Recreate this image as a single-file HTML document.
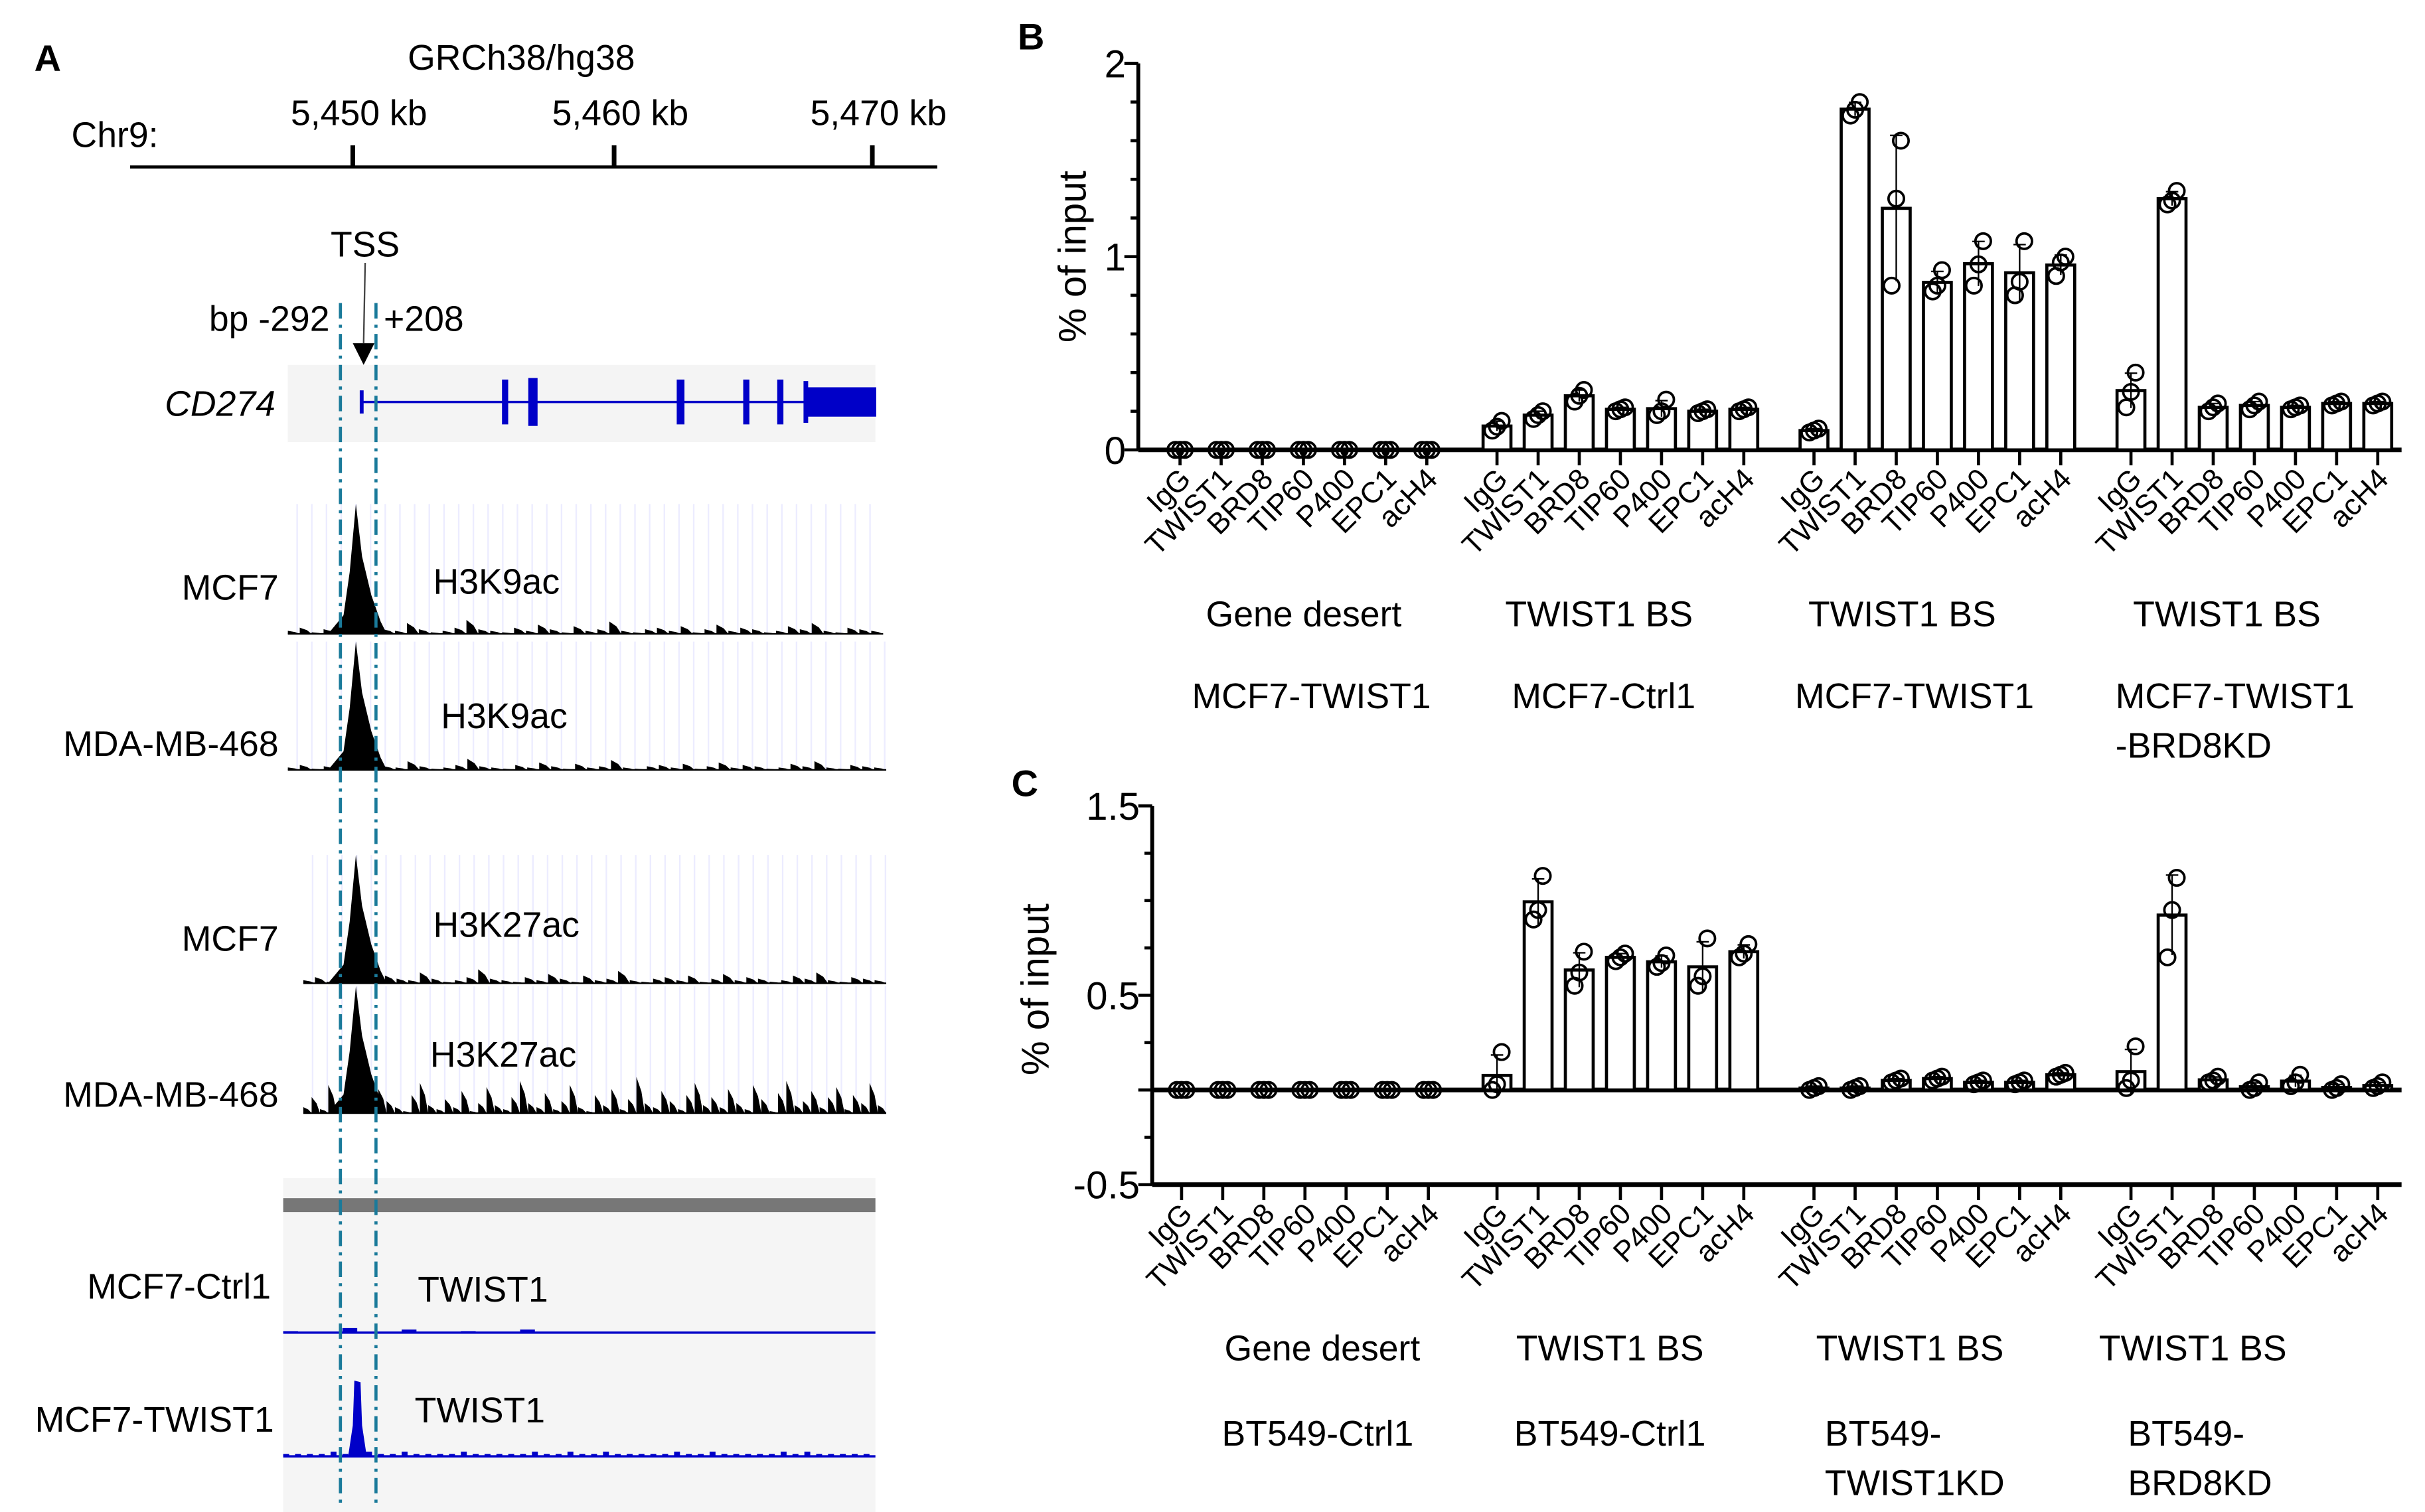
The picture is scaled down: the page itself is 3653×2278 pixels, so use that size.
<!DOCTYPE html>
<html><head><meta charset="utf-8"><style>
html,body{margin:0;padding:0;background:#fff}
svg{display:block;font-family:"Liberation Sans",Arial,sans-serif}
</style></head><body>
<svg id="fig" width="3653" height="2278" viewBox="0 0 1568 978" xmlns="http://www.w3.org/2000/svg">
<g id="panelA">
<text x="22" y="46" font-size="24" font-weight="bold">A</text>
<text x="337" y="45" font-size="23" text-anchor="middle">GRCh38/hg38</text>
<text x="46" y="95" font-size="23">Chr9:</text>
<line x1="84" y1="108" x2="606" y2="108" stroke="#000" stroke-width="2"/>
<g stroke="#000" stroke-width="3">
<line x1="228" y1="94" x2="228" y2="108"/><line x1="397" y1="94" x2="397" y2="108"/><line x1="564" y1="94" x2="564" y2="108"/></g>
<g font-size="23" text-anchor="middle">
<text x="232" y="81">5,450 kb</text><text x="401" y="81">5,460 kb</text><text x="568" y="81">5,470 kb</text></g>
<text x="236" y="166" font-size="23" text-anchor="middle">TSS</text>
<line x1="236" y1="170" x2="235" y2="222" stroke="#444" stroke-width="1"/>
<polygon points="228,222 242,222 235,236" fill="#000"/>
<text x="213" y="214" font-size="23" text-anchor="end">bp -292</text>
<text x="248" y="214" font-size="23">+208</text>
<rect x="186" y="236" width="380" height="50" fill="#f4f4f4"/>
<text x="178" y="269" font-size="23" font-style="italic" text-anchor="end">CD274</text>
<g fill="#0000c8" stroke="#0000c8">
<line x1="233" y1="260" x2="522" y2="260" stroke-width="1.5"/>
<rect x="233" y="253" width="1.5" height="14"/>
<rect x="325" y="246" width="3" height="28"/><rect x="342" y="245" width="5" height="30"/>
<rect x="438" y="246" width="4" height="28"/><rect x="481" y="246" width="3" height="28"/><rect x="503" y="246" width="3" height="28"/>
<rect x="520" y="247" width="2" height="26"/><rect x="522" y="251" width="44" height="18"/></g>
<g id="tracks"></g>
<rect x="183" y="762" width="383" height="216" fill="#f5f5f5"/>
<rect x="183" y="775" width="383" height="9" fill="#777"/>
<g id="chip"></g>
<g font-size="23">
<text x="180" y="388" text-anchor="end">MCF7</text><text x="280" y="384">H3K9ac</text>
<text x="180" y="489" text-anchor="end">MDA-MB-468</text><text x="285" y="471">H3K9ac</text>
<text x="180" y="615" text-anchor="end">MCF7</text><text x="280" y="606">H3K27ac</text>
<text x="180" y="716" text-anchor="end">MDA-MB-468</text><text x="278" y="690">H3K27ac</text>
<text x="175" y="840" text-anchor="end">MCF7-Ctrl1</text><text x="270" y="842">TWIST1</text>
<text x="177" y="926" text-anchor="end">MCF7-TWIST1</text><text x="268" y="920">TWIST1</text></g>
<g stroke="#1a7a9a" stroke-width="2" stroke-dasharray="10,4,2,4">
<line x1="220" y1="196" x2="220" y2="975"/><line x1="243" y1="196" x2="243" y2="975"/></g>
</g>
<g id="panelB"></g>
<g id="panelC"></g>
</svg>
<script>
// ---- Panel A track noise (bump heights) ----
const bumpsA=[2,4,1,3,6,2,1,5,3,2,7,3,1,2,4,9,3,2,1,4,2,6,3,1,5,2,3,8,2,1,3,4,2,5,1,3,6,2,4,3,1,2,5,3,7,2,1,4,3,2];
const bumpsB=[3,8,2,14,5,1,10,4,2,12,6,3,1,9,15,4,2,7,3,11,1,5,13,4,2,8,16,5,3,10,2,6,14,3,1,9,4,12,2,7,18,5,3,11,6,2,9,15,4,8,3,12,5,2,14,7,1,10,16,4,6,11,3,8,13,2,9,5,15,4];
const NS="http://www.w3.org/2000/svg";
function mk(tag,attrs,parent){const e=document.createElementNS(NS,tag);for(const k in attrs)e.setAttribute(k,attrs[k]);parent.appendChild(e);return e;}
const tracks=document.getElementById('tracks');
function track(y0,top,x0,x1,bumps,scale,name){
  const g=mk('g',{},tracks);
  
  
  for(let x=x0+6;x<x1;x+=9.5)mk('line',{x1:x,y1:top,x2:x,y2:y0,stroke:'#ececff','stroke-width':1},g);
  let d=`M${x0},${y0}`;
  const n=bumps.length,w=(x1-x0)/n;
  for(let i=0;i<n;i++){const x=x0+i*w;let h=bumps[i]*scale;
    d+=` L${x},${y0-h} L${x+w*0.6},${y0-h*0.6} L${x+w},${y0}`;}
  d+=` L${x1},${y0} Z`;
  mk('path',{d:d,fill:'#000'},g);
  mk('path',{d:`M212,${y0} L222,${y0-12} L226,${y0-40} L230,${top} L234,${y0-50} L240,${y0-25} L246,${y0-8} L250,${y0} Z`,fill:'#000'},g);
  mk('line',{x1:x0,y1:y0,x2:x1,y2:y0,stroke:'#000','stroke-width':1},g);
}
track(410,326,186,571,bumpsA,1,'mcf7-h3k9ac-track');
track(498,415,186,573,bumpsA,0.8,'mdamb468-h3k9ac-track');
track(636,553,196,573,bumpsA,1,'mcf7-h3k27ac-track');
track(720,638,196,573,bumpsB,1.3,'mdamb468-h3k27ac-track');
const chip=document.getElementById('chip');
function chipTrack(y0,bumps,scale,peak,name){
  const g=mk('g',{},chip);
  
  
  let d=`M183,${y0}`;const n=bumps.length,w=383/n;
  for(let i=0;i<n;i++){const x=183+i*w,h=bumps[i]*scale;d+=` L${x},${y0} L${x},${y0-h} L${x+w*0.5},${y0-h} L${x+w*0.5},${y0}`;}
  d+=` L566,${y0} Z`;
  mk('path',{d:d,fill:'#0000c8'},g);
  if(peak)mk('path',{d:`M225,${y0} L228,${y0-20} L229,${y0-49} L233,${y0-48} L234,${y0-20} L237,${y0} Z`,fill:'#0000c8'},g);
  mk('line',{x1:183,y1:y0,x2:566,y2:y0,stroke:'#0000c8','stroke-width':1.5},g);
}
chipTrack(862,[1,0,3,0,2,0,1,0,2,0,0,0,0,0,0,0,0,0,0,0],1,false,'mcf7-ctrl1-twist1-track');
chipTrack(942,bumpsA.map(v=>v>4?2:1),1.5,true,'mcf7-twist1-twist1-track');

// ---- Bar chart data ----
const categories=["IgG","TWIST1","BRD8","TIP60","P400","EPC1","acH4"];
const bGroups1=["Gene desert","TWIST1 BS","TWIST1 BS","TWIST1 BS"];
const bGroups2=[["MCF7-TWIST1"],["MCF7-Ctrl1"],["MCF7-TWIST1"],["MCF7-TWIST1","-BRD8KD"]];
const bTicks=[0,1,2];
const bPts=[
 [[0,0,0],[0,0,0],[0,0,0],[0,0,0],[0,0,0],[0,0,0],[0,0,0]],
 [[0.1,0.12,0.15],[0.16,0.18,0.2],[0.25,0.28,0.31],[0.2,0.21,0.22],[0.18,0.2,0.26],[0.19,0.2,0.21],[0.2,0.21,0.22]],
 [[0.09,0.1,0.11],[1.73,1.76,1.8],[0.85,1.3,1.6],[0.82,0.85,0.93],[0.85,0.96,1.08],[0.8,0.87,1.08],[0.9,0.97,1.0]],
 [[0.22,0.3,0.4],[1.27,1.29,1.34],[0.2,0.22,0.24],[0.21,0.23,0.25],[0.21,0.22,0.23],[0.23,0.24,0.25],[0.23,0.24,0.25]]];
const cGroups1=["Gene desert","TWIST1 BS","TWIST1 BS","TWIST1 BS"];
const cGroups2=[["BT549-Ctrl1"],["BT549-Ctrl1"],["BT549-","TWIST1KD"],["BT549-","BRD8KD"]];
const cTicks=[-0.5,0.5,1.5];
const cPts=[
 [[0,0,0],[0,0,0],[0,0,0],[0,0,0],[0,0,0],[0,0,0],[0,0,0]],
 [[0,0.03,0.2],[0.9,0.95,1.13],[0.55,0.62,0.73],[0.68,0.7,0.72],[0.65,0.67,0.71],[0.55,0.6,0.8],[0.7,0.72,0.77]],
 [[0,0.01,0.02],[0,0.01,0.02],[0.04,0.05,0.06],[0.05,0.06,0.07],[0.03,0.04,0.05],[0.03,0.04,0.05],[0.07,0.08,0.09]],
 [[0.01,0.05,0.23],[0.7,0.95,1.12],[0.04,0.05,0.07],[0,0.01,0.04],[0.02,0.04,0.08],[0,0.01,0.03],[0.01,0.02,0.04]]];

function drawChart(opt){
  const g=document.getElementById(opt.id);
  const y=v=>opt.y0-(v-0)*opt.ppu;
  const xb=(gi,ci)=>opt.gx[gi]+ci*26.6;
  const t=mk('text',{x:opt.lx,y:opt.ly,'font-size':24,'font-weight':'bold'},g);t.textContent=opt.letter;
  
  
  const ax=mk('line',{x1:opt.ax,y1:y(opt.ymax),x2:opt.ax,y2:y(opt.ymin),stroke:'#000','stroke-width':2.5},g);
  
  
  for(let v=opt.ymin;v<=opt.ymax+1e-9;v+=opt.minor){
    const major=opt.ticks.some(tk=>Math.abs(tk-v)<1e-6)||Math.abs(v)<1e-6;
    mk('line',{x1:opt.ax-(major?9:5),y1:y(v),x2:opt.ax,y2:y(v),stroke:'#000','stroke-width':2},g);
  }
  opt.tickLabels.forEach(v=>{const tl=mk('text',{x:opt.ax-8,y:y(v)+9,'font-size':25,'text-anchor':'end'},g);tl.textContent=String(v);
    
    });
  const yt=mk('text',{x:0,y:0,'font-size':25,'text-anchor':'middle',transform:`translate(${opt.ytx},${opt.yty}) rotate(-90)`},g);yt.textContent='% of input';
  
  
  const xa=mk('line',{x1:opt.ax,y1:y(opt.xaxisV),x2:1553,y2:y(opt.xaxisV),stroke:'#000','stroke-width':3},g);
  
  
  if(opt.xaxisV!==0){const zl=mk('line',{x1:opt.ax,y1:y(0),x2:1553,y2:y(0),stroke:'#000','stroke-width':3},g);
    
    }
  opt.pts.forEach((grp,gi)=>{grp.forEach((p,ci)=>{
    const x=xb(gi,ci);
    const mean=(p[0]+p[1]+p[2])/3;
    const sd=Math.sqrt(p.reduce((s,v)=>s+(v-mean)*(v-mean),0)/2);
    mk('line',{x1:x,y1:y(opt.xaxisV),x2:x,y2:y(opt.xaxisV)+10,stroke:'#000','stroke-width':2},g);
    const bar=mk('rect',{x:x-9,y:Math.min(y(mean),y(0)),width:18,height:Math.abs(y(0)-y(mean)),fill:'#fff',stroke:'#000','stroke-width':2},g);
    
    
    if(sd>0.005){mk('line',{x1:x,y1:y(mean+sd),x2:x,y2:y(mean-sd),stroke:'#000','stroke-width':1},g);
      mk('line',{x1:x-4,y1:y(mean+sd),x2:x+4,y2:y(mean+sd),stroke:'#000','stroke-width':1},g);}
    p.forEach((v,k)=>{const c=mk('circle',{cx:x+(k-1)*3,cy:y(v),r:5,fill:'none',stroke:'#000','stroke-width':1.6},g);
      
      });
    const lb=mk('text',{x:0,y:0,'font-size':19,'text-anchor':'end',transform:`translate(${x+8},${y(opt.xaxisV)+20}) rotate(-45)`},g);
    lb.textContent=categories[ci];
    
    
  });});
  opt.g1.forEach((s,gi)=>{const tx=mk('text',{x:opt.g1x[gi],y:opt.g1y,'font-size':23,'text-anchor':'middle'},g);tx.textContent=s;
    
    });
  opt.g2.forEach((arr,gi)=>{arr.forEach((s,k)=>{const pos=opt.g2x[gi];
    const tx=mk('text',{x:pos[0],y:opt.g2y+k*32,'font-size':23,'text-anchor':pos[1]},g);tx.textContent=s;
    
    });});
}
function bGroupsName(gi){return 'group'+(gi+1);}
drawChart({id:'panelB',letter:'B',lx:658,ly:32,ax:736,y0:291,ppu:125,ymin:0,ymax:2,minor:0.2,ticks:bTicks,tickLabels:bTicks,
  xaxisV:0,ytx:702,yty:166,gx:[763,968,1173,1378],pts:bPts,g1:bGroups1,g1x:[843,1034,1230,1440],g1y:405,
  g2:bGroups2,g2x:[[848,'middle'],[1037,'middle'],[1238,'middle'],[1368,'start']],g2y:458});
drawChart({id:'panelC',letter:'C',lx:654,ly:515,ax:745,y0:705,ppu:122.5,ymin:-0.5,ymax:1.5,minor:0.25,ticks:cTicks,tickLabels:[1.5,0.5,-0.5],
  xaxisV:-0.5,ytx:678,yty:640,gx:[764,968,1173,1378],pts:cPts,g1:cGroups1,g1x:[855,1041,1235,1418],g1y:880,
  g2:cGroups2,g2x:[[852,'middle'],[1041,'middle'],[1180,'start'],[1376,'start']],g2y:935});
</script>
</body></html>
